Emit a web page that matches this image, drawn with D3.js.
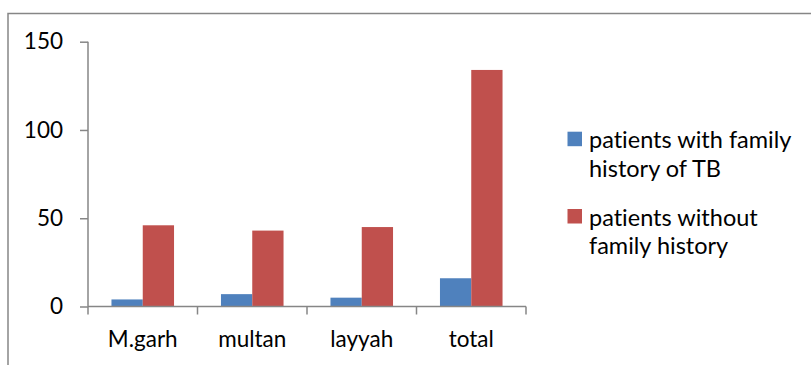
<!DOCTYPE html>
<html>
<head>
<meta charset="utf-8">
<script src="https://cdn.jsdelivr.net/npm/d3@7"></script>
<style>
  html, body { margin: 0; padding: 0; background: #fff; }
  svg { display: block; }
  text { font-family: Lato, "Open Sans", sans-serif; fill: #000; font-variant-ligatures: none; }
</style>
</head>
<body>
<svg id="chart" width="811" height="365"></svg>
<script>
// Patients by district, split by family history of TB
const categories = ["M.garh", "multan", "layyah", "total"];
const seriesNames = ["patients with family history of TB", "patients without family history"];
const legendLines = [["patients with family", "history of TB"], ["patients without", "family history"]];
const withFamilyHistory = [4, 7, 5, 16];
const withoutFamilyHistory = [46, 43, 45, 134];
const yTicks = [0, 50, 100, 150];
const colors = ["#4F81BD", "#C0504D"];

const svg = d3.select("#chart");
const axisColor = "#868686";
const fontFamily = "Lato, 'Open Sans', sans-serif";

// outer chart frame (runs off the right and bottom edges)
svg.append("rect")
  .attr("x", 8).attr("y", 13.5)
  .attr("width", 900).attr("height", 500)
  .attr("fill", "none").attr("stroke", axisColor).attr("stroke-width", 1.5);

const plot = { left: 88, right: 526, top: 41.7, bottom: 306.5 };

const x0 = d3.scaleBand().domain(categories).range([plot.left, plot.right]).padding(0);
const x1 = d3.scaleBand().domain(seriesNames).range([0, x0.bandwidth()])
  .paddingInner(0).paddingOuter(0.75);
const y = d3.scaleLinear().domain([0, 150]).range([plot.bottom, plot.top]);

const rows = categories.map((c, i) => ({
  category: c,
  values: [withFamilyHistory[i], withoutFamilyHistory[i]]
}));

// bars
const groups = svg.append("g").selectAll("g").data(rows).join("g")
  .attr("transform", d => `translate(${x0(d.category)},0)`);
groups.selectAll("rect")
  .data(d => d.values.map((v, k) => ({ key: seriesNames[k], value: v, k })))
  .join("rect")
  .attr("x", d => x1(d.key))
  .attr("width", x1.bandwidth())
  .attr("y", d => y(d.value))
  .attr("height", d => y(0) - y(d.value))
  .attr("fill", d => colors[d.k]);

// y axis
const yAxis = svg.append("g")
  .attr("transform", `translate(${plot.left},0)`)
  .call(d3.axisLeft(y).tickValues(yTicks).tickSize(8).tickPadding(17).tickFormat(d3.format("d")));

// x axis
const xAxis = svg.append("g")
  .attr("transform", `translate(0,${plot.bottom})`)
  .call(d3.axisBottom(x0).tickSize(0).tickPadding(25));
// category boundary ticks
xAxis.selectAll(".boundary")
  .data(d3.range(categories.length + 1))
  .join("line")
  .attr("class", "boundary")
  .attr("x1", i => plot.left + i * x0.step())
  .attr("x2", i => plot.left + i * x0.step())
  .attr("y1", 0).attr("y2", 8);

[yAxis, xAxis].forEach(ax => {
  ax.attr("font-size", 22.5).attr("font-family", fontFamily);
  ax.select(".domain").attr("stroke", axisColor).attr("stroke-width", 1.5);
  ax.selectAll("line").attr("stroke", axisColor).attr("stroke-width", 1.5);
  ax.selectAll("text").attr("fill", "#000");
});
yAxis.select(".domain").attr("d", `M0,${plot.top}V${plot.bottom}`);
xAxis.select(".domain").attr("d", `M${plot.left},0H${plot.right}`);

// legend: one swatch per series, label wrapped over two lines
const legend = svg.append("g").attr("font-size", 23.5).attr("font-family", fontFamily);
const legendTop = [131.7, 209];
legendLines.forEach((lines, k) => {
  legend.append("rect")
    .attr("x", 567.5).attr("y", legendTop[k])
    .attr("width", 14.5).attr("height", 14.5)
    .attr("fill", colors[k]);
  const label = legend.append("text")
    .attr("x", 589)
    .attr("y", legendTop[k] + 16.5);
  lines.forEach((t, j) => {
    label.append("tspan")
      .attr("x", 589)
      .attr("dy", j === 0 ? 0 : 28.4)
      .text(t);
  });
});
</script>
</body>
</html>
